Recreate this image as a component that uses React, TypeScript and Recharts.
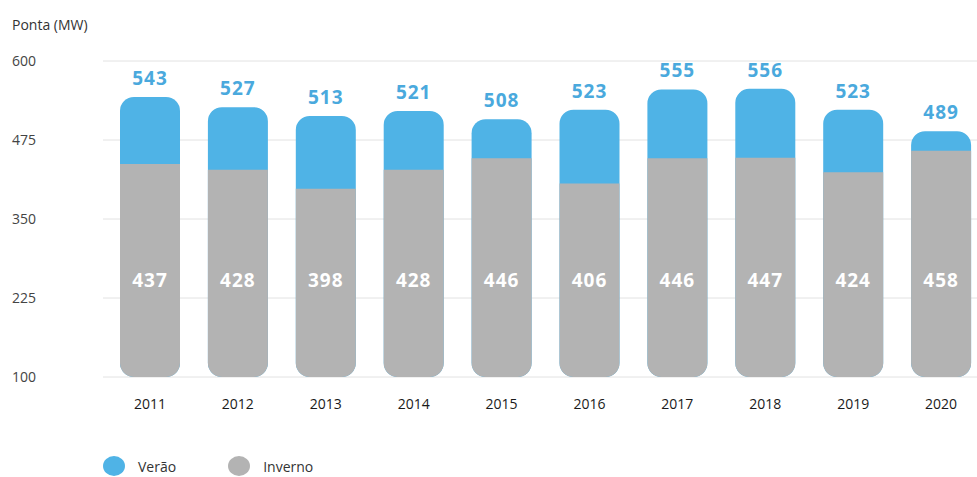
import { BarChart, Bar, XAxis, YAxis, CartesianGrid, LabelList } from "recharts";

const years = ["2011", "2012", "2013", "2014", "2015", "2016", "2017", "2018", "2019", "2020"];
const verao = [543, 527, 513, 521, 508, 523, 555, 556, 523, 489];
const inverno = [437, 428, 398, 428, 446, 406, 446, 447, 424, 458];
const yTicks = [100, 225, 350, 475, 600];

const data = years.map((year, i) => ({
  year,
  verao: verao[i],
  inverno: inverno[i],
}));

const BLUE = "#4fb3e6";
const GRAY = "#b3b3b3";
const FONT = "'Open Sans', sans-serif";

function YTick(props: any) {
  const { y, payload } = props;
  return (
    <text x={12} y={y} dy={5} textAnchor="start" fontSize={14} fill="#444" fontFamily={FONT}>
      {payload.value}
    </text>
  );
}

// white value drawn at a fixed distance above the bar's base
function InvernoLabel(props: any) {
  const { x, y, width, height, value } = props;
  return (
    <text
      x={x + width / 2}
      y={y + height - 97}
      dy={7}
      textAnchor="middle"
      fontSize={19}
      fontWeight={700}
      letterSpacing={1}
      fill="#fff"
      fontFamily={FONT}
    >
      {value}
    </text>
  );
}

function LegendItem({ color, label }: { color: string; label: string }) {
  return (
    <div style={{ display: "flex", alignItems: "center", marginRight: 52 }}>
      <span
        style={{
          width: 22,
          height: 20,
          borderRadius: "50%",
          background: color,
          display: "inline-block",
          marginRight: 13,
        }}
      />
      <span style={{ fontSize: 14, color: "#333", fontFamily: FONT }}>{label}</span>
    </div>
  );
}

export default function App() {
  return (
    <div style={{ position: "absolute", left: 0, top: 0, width: 977, height: 477, overflow: "hidden", background: "#fff" }}>
      <div
        style={{
          position: "absolute",
          left: 12,
          top: 15,
          fontSize: 14,
          color: "#333",
          fontFamily: FONT,
        }}
      >
        Ponta (MW)
      </div>
      <BarChart
        width={977}
        height={440}
        data={data}
        margin={{ top: 61, right: 0, left: 0, bottom: 23 }}
        barGap={-60}
      >
        <CartesianGrid vertical={false} stroke="#e2e2e2" />
        <XAxis
          dataKey="year"
          axisLine={false}
          tickLine={false}
          tickMargin={16}
          height={40}
          padding={{ left: 3, right: -8 }}
          tick={{ fontSize: 14, fill: "#1a1a1a", fontFamily: FONT }}
        />
        <YAxis
          width={103}
          domain={[100, 600]}
          ticks={yTicks}
          axisLine={false}
          tickLine={false}
          tick={<YTick />}
        />
        <Bar dataKey="verao" name="Verão" fill={BLUE} barSize={60} radius={14} isAnimationActive={false}>
          <LabelList
            dataKey="verao"
            position="top"
            offset={12}
            fill="#4aa9dd"
            fontSize={19}
            fontWeight={700}
            letterSpacing={1}
            fontFamily={FONT}
          />
        </Bar>
        <Bar dataKey="inverno" name="Inverno" fill={GRAY} barSize={60} radius={[0, 0, 14, 14]} isAnimationActive={false}>
          <LabelList dataKey="inverno" content={<InvernoLabel />} />
        </Bar>
      </BarChart>
      <div style={{ position: "absolute", left: 103, top: 456, display: "flex" }}>
        <LegendItem color={BLUE} label="Verão" />
        <LegendItem color={GRAY} label="Inverno" />
      </div>
    </div>
  );
}
